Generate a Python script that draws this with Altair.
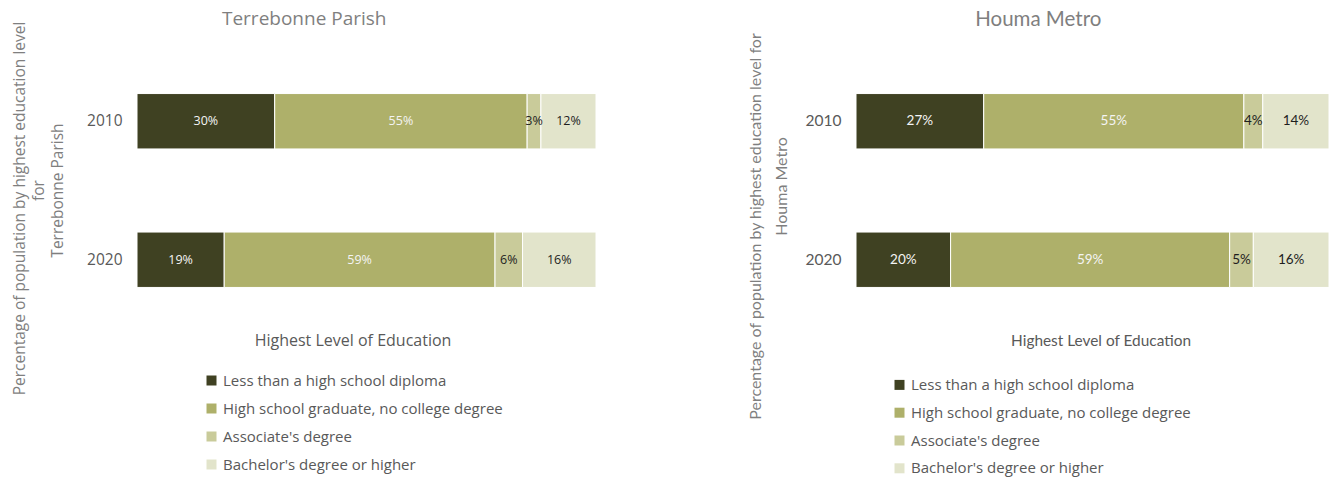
import altair as alt
import pandas as pd

categories = [
    "Less than a high school diploma",
    "High school graduate, no college degree",
    "Associate's degree",
    "Bachelor's degree or higher",
]
colors = ["#3f4122", "#aeb06a", "#c9cb9a", "#e2e4cb"]
years = ["2010", "2020"]
terrebonne_2010 = [30, 55, 3, 12]
terrebonne_2020 = [19, 59, 6, 16]
houma_2010 = [27, 55, 4, 14]
houma_2020 = [20, 59, 5, 16]

PLOT_H = 277


def make_df(v2010, v2020):
    rows = []
    for yr, vals in zip(years, [v2010, v2020]):
        for i, (c, v) in enumerate(zip(categories, vals)):
            rows.append({"year": yr, "category": c, "value": v, "order": i})
    return pd.DataFrame(rows)


def panel(df, title, ytitle1, ytitle2, width, cfg):
    base = (
        alt.Chart(df)
        .transform_stack(
            stack="value",
            groupby=["year"],
            as_=["x0", "x1"],
            sort=[alt.SortField("order", "ascending")],
        )
        .transform_calculate(mid="(datum.x0 + datum.x1) / 2", label="datum.value + '%'")
    )
    ysc = alt.Scale(domain=years, paddingInner=0.6, paddingOuter=0.3)
    xsc = alt.Scale(domain=[0, 100], nice=False, zero=True)
    common_title = dict(
        titleFont=cfg["yfont"],
        titleFontSize=cfg["ytitle_size"],
        titleFontWeight="normal",
        titleColor="#7f7f7f",
        titleLineHeight=cfg["ytitle_lh"],
        titleAngle=270,
        titleAlign="center",
        titleBaseline="bottom",
        titleLimit=700,
        ticks=False,
        domain=False,
        grid=False,
        orient="left",
    )
    yaxis_a = alt.Axis(
        title=ytitle1,
        labelFont=cfg["yfont"],
        labelFontSize=cfg["label_size"],
        labelColor="#595959",
        labelPadding=15,
        titleX=cfg["tx1"],
        titleY=cfg["ty1"],
        **common_title,
    )
    yaxis_b = alt.Axis(
        title=ytitle2,
        labels=False,
        titleX=cfg["tx2"],
        titleY=cfg["ty2"],
        **common_title,
    )
    legend = alt.Legend(
        orient="none",
        legendX=cfg["leg_x"],
        legendY=cfg["leg_y"],
        direction="vertical",
        title="Highest Level of Education",
        titleFont=cfg["leg_title_font"],
        titleFontSize=cfg["leg_title_size"],
        titleFontWeight="normal",
        titleColor="#595959",
        titleAnchor=cfg["leg_anchor"],
        titlePadding=cfg["leg_title_pad"],
        titleLimit=500,
        labelFont="Open Sans",
        labelFontSize=15,
        labelColor="#595959",
        labelLimit=500,
        labelOffset=4,
        symbolType="square",
        symbolSize=100,
        symbolStrokeWidth=0,
        rowPadding=cfg["row_pad"],
        padding=0,
    )
    bars = base.mark_bar(stroke="white", strokeWidth=1).encode(
        y=alt.Y("year:N", scale=ysc, axis=yaxis_a),
        x=alt.X("x0:Q", scale=xsc, axis=None),
        x2="x1:Q",
        color=alt.Color(
            "category:N",
            scale=alt.Scale(domain=categories, range=colors),
            sort=categories,
            legend=legend,
        ),
    )
    text = base.mark_text(font=cfg["bar_font"], fontSize=cfg["bar_size"]).encode(
        y=alt.Y("year:N", scale=ysc, axis=yaxis_b),
        x=alt.X("mid:Q", scale=xsc, axis=None),
        text="label:N",
        color=alt.condition("datum.order < 2", alt.value("#f4f4f4"), alt.value("#1e1e1e")),
    )
    return (
        alt.layer(bars, text)
        .resolve_axis(y="independent")
        .properties(
            width=width,
            height=PLOT_H,
            title=alt.TitleParams(
                title,
                font=cfg["title_font"],
                fontSize=cfg["title_size"],
                fontWeight="normal",
                color="#7f7f7f",
                anchor="middle",
                frame="bounds",
                offset=cfg["title_offset"],
            ),
        )
    )


left = panel(
    make_df(terrebonne_2010, terrebonne_2020),
    "Terrebonne Parish",
    "Percentage of population by highest education level",
    ["for", "Terrebonne Parish"],
    459,
    dict(yfont="Open Sans", label_size=15.5, ytitle_size=15.5, ytitle_lh=19,
         tx1=-110, ty1=156, tx2=-91, ty2=138,
         leg_x=67, leg_y=281, leg_title_font="Open Sans", leg_title_size=16,
         leg_anchor="middle", leg_title_pad=24, row_pad=12,
         bar_font="Open Sans", bar_size=12.5,
         title_font="Open Sans", title_size=19, title_offset=-8),
)
right = panel(
    make_df(houma_2010, houma_2020),
    "Houma Metro",
    "Percentage of population by highest education level for",
    "Houma Metro",
    473,
    dict(yfont="Lato", label_size=15.5, ytitle_size=16, ytitle_lh=24,
         tx1=-93, ty1=174, tx2=-67, ty2=134,
         leg_x=36, leg_y=282, leg_title_font="Lato", leg_title_size=15.4,
         leg_anchor="end", leg_title_pad=28, row_pad=11.8,
         bar_font="Lato", bar_size=13.5,
         title_font="Lato", title_size=20.5, title_offset=2),
)

chart = (
    alt.hconcat(left, right, spacing=149)
    .resolve_scale(color="independent")
    .resolve_legend(color="independent")
    .properties(padding={"left": 4, "top": 1, "right": 0, "bottom": 0})
    .configure_view(stroke=None)
)

chart.save("out.html", embed_options={"renderer": "svg", "actions": False})
